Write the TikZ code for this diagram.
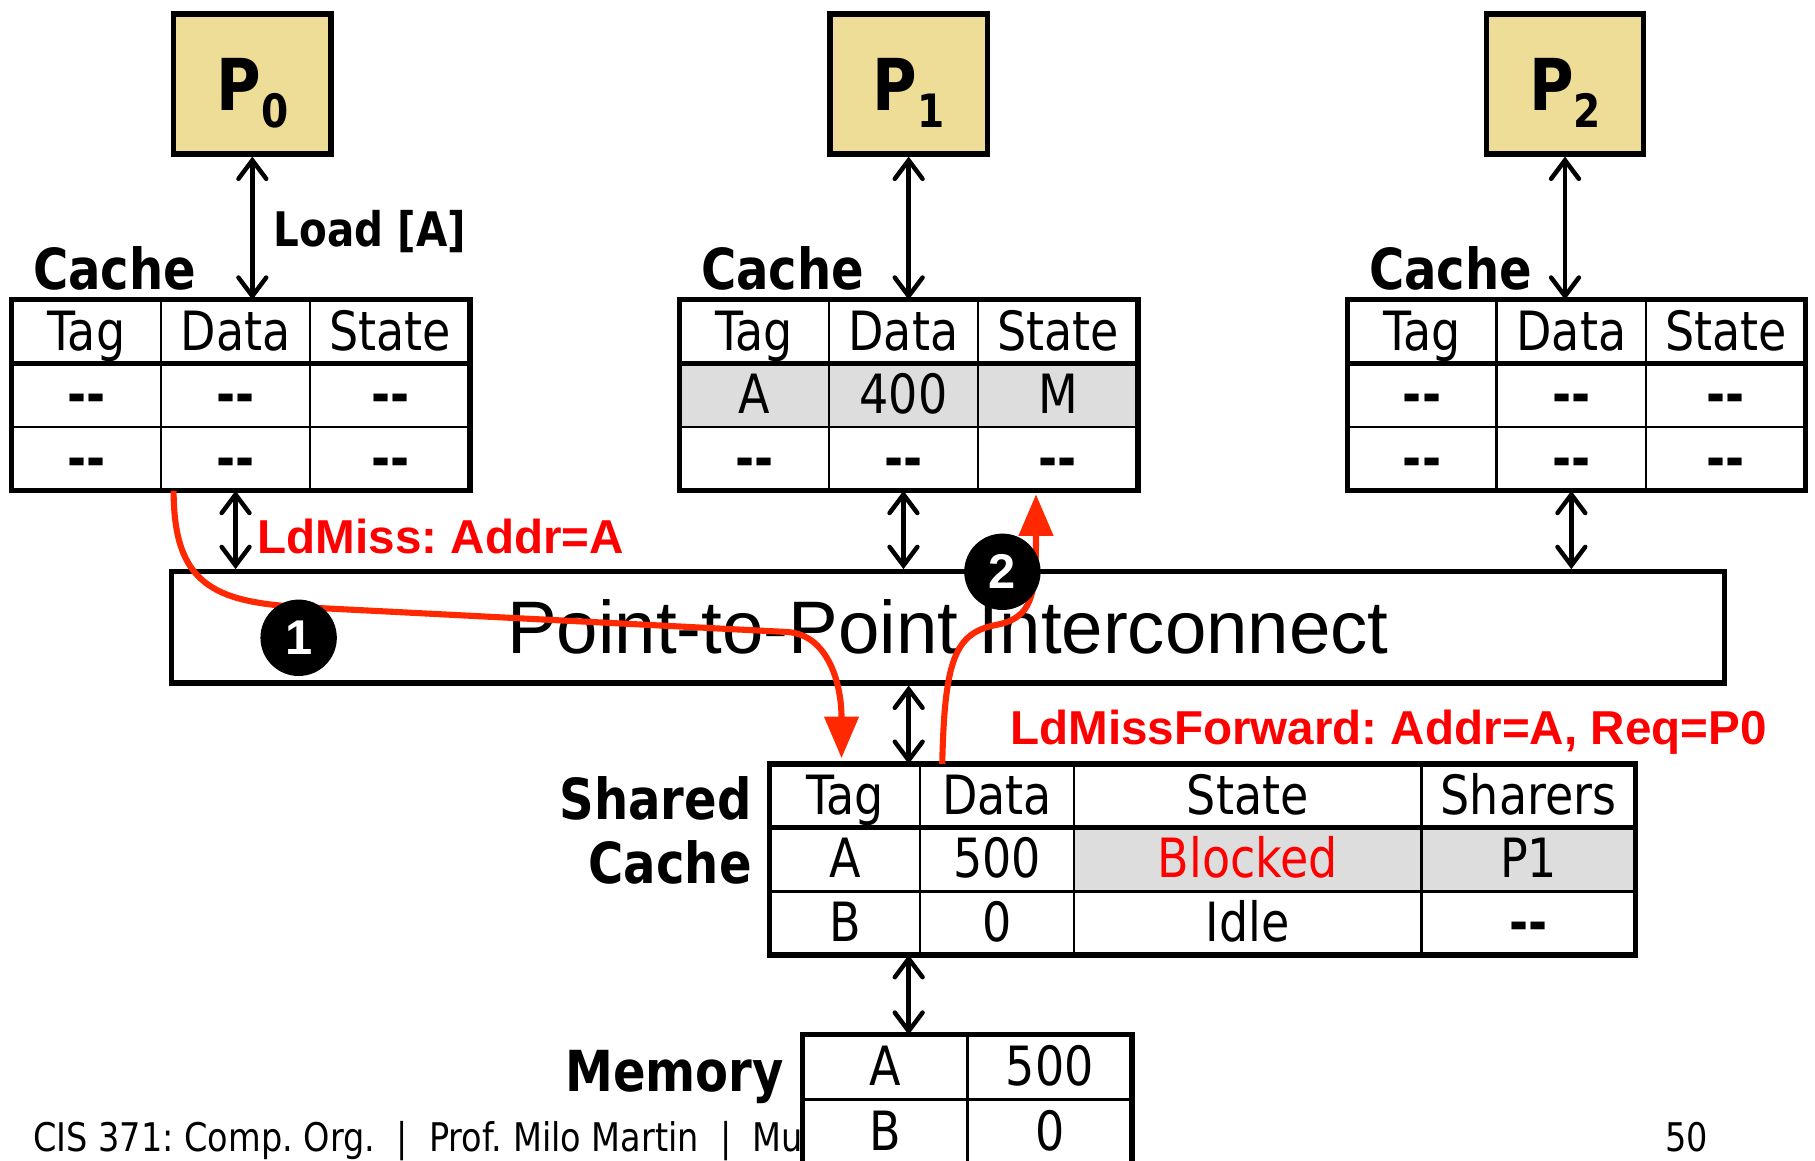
\documentclass[tikz,border=0pt]{standalone}
\usepackage{fontspec}
\setmainfont{DejaVu Sans}[FakeStretch=0.85]
\newfontfamily\arialfont{Liberation Sans}
\usepackage{tikz}
\usetikzlibrary{calc}
\usetikzlibrary{arrows.meta}
\frenchspacing

\definecolor{procyellow}{RGB}{238,221,150}
\definecolor{rowgray}{RGB}{221,221,221}
\definecolor{msgred}{RGB}{255,40,0}
\definecolor{textred}{RGB}{255,0,0}

\begin{document}
\begin{tikzpicture}[
  cell/.style={rectangle, draw=black, line width=0.6pt, fill=white, inner sep=0pt, outer sep=0pt, anchor=north west, minimum height=0.55cm, text height=0.34cm, text depth=0.02cm, font=\fontsize{13.3}{14}\selectfont},
  frame/.style={draw=black, line width=1.3pt},
  proc/.style={rectangle, draw=black, line width=1.3pt, fill=procyellow, minimum width=1.36cm, minimum height=1.21cm, text depth=0pt, font=\bfseries\fontsize{17.6}{18}\selectfont},
  biglabel/.style={inner sep=0pt, font=\bfseries\fontsize{13.9}{15}\selectfont},
  link/.style={black, line width=1.1pt, >={Straight Barb[length=1.6mm,width=2.4mm,line cap=round]}, <->},
  msg/.style={draw=msgred, line width=1.5pt, -{Triangle[length=3.6mm,width=2.9mm]}},
  msglabel/.style={text=textred, inner sep=0pt, anchor=base west, font=\arialfont\bfseries\fontsize{11.7}{13}\selectfont},
  stepdot/.style={circle, fill=black, minimum size=0.66cm, inner sep=0pt, text=white, font=\arialfont\bfseries\fontsize{12}{12}\selectfont}
]

\useasboundingbox (0,0) rectangle (15.68,-10.03);
\clip (0,0) rectangle (15.68,-10.03);

\newcommand\emptyval{\textbf{-{}-}}
\newcommand\cachetab[6]{%
  \node[cell, minimum width=1.29cm] (#1tag) at (#2,-2.59) {Tag};
  \node[cell, minimum width=1.29cm] (#1data) at (#1tag.north east) {Data};
  \node[cell, minimum width=1.38cm] (#1state) at (#1data.north east) {State};
  \node[cell, minimum width=1.29cm, fill=#6] (#1tagA) at (#1tag.south west) {#3};
  \node[cell, minimum width=1.29cm, fill=#6] (#1dataA) at (#1tagA.north east) {#4};
  \node[cell, minimum width=1.38cm, fill=#6] (#1stateA) at (#1dataA.north east) {#5};
  \node[cell, minimum width=1.29cm] (#1tagB) at (#1tagA.south west) {\emptyval};
  \node[cell, minimum width=1.29cm] (#1dataB) at (#1tagB.north east) {\emptyval};
  \node[cell, minimum width=1.38cm] (#1stateB) at (#1dataB.north east) {\emptyval};
  \draw[frame] (#1tag.north west) rectangle (#1stateB.south east);
  \draw[frame] (#1tag.south west) -- (#1state.south east);
  \node[biglabel, anchor=base west] (#1lbl) at ($(#1tag.north west)+(0.18,0.09)$) {Cache};
}

% processors
\node[proc] (p0) at (2.18,-0.725) {P\raisebox{-0.15cm}{\fontsize{11.3}{12}\selectfont 0}};
\node[proc] (p1) at (7.85,-0.725) {P\raisebox{-0.15cm}{\fontsize{11.3}{12}\selectfont 1}};
\node[proc] (p2) at (13.52,-0.725) {P\raisebox{-0.15cm}{\fontsize{11.3}{12}\selectfont 2}};

% private caches
\cachetab{ca}{0.10}{\emptyval}{\emptyval}{\emptyval}{white}
\cachetab{cb}{5.87}{A}{400}{M}{rowgray}
\cachetab{cc}{11.64}{\emptyval}{\emptyval}{\emptyval}{white}

\draw[link] (p0.south) -- (p0.south |- catag.north);
\draw[link] (p1.south) -- (p1.south |- cbtag.north);
\draw[link] (p2.south) -- (p2.south |- cctag.north);
\node[inner sep=0pt, anchor=base west, font=\bfseries\fontsize{11.7}{13}\selectfont] (loadlbl) at (2.36,-2.13) {Load [A]};

% interconnect
\node[rectangle, draw=black, line width=1.3pt, fill=white, minimum width=13.42cm, minimum height=0.96cm, font=\arialfont\fontsize{18.3}{20}\selectfont] (ic) at (8.19,-5.42) {Point-to-Point Interconnect};

\draw[link] (cadataB.south) -- (cadataB.south |- ic.north);
\draw[link] (cbdataB.south) -- (cbdataB.south |- ic.north);
\draw[link] (ccdataB.south) -- (ccdataB.south |- ic.north);

% shared cache
\node[cell, minimum width=1.30cm] (sctag) at (6.65,-6.60) {Tag};
\node[cell, minimum width=1.33cm] (scdata) at (sctag.north east) {Data};
\node[cell, minimum width=3.00cm] (scstate) at (scdata.north east) {State};
\node[cell, minimum width=1.85cm] (scsharers) at (scstate.north east) {Sharers};
\node[cell, minimum width=1.30cm] (sctagA) at (sctag.south west) {A};
\node[cell, minimum width=1.33cm] (scdataA) at (sctagA.north east) {500};
\node[cell, minimum width=3.00cm, fill=rowgray, text=textred] (scstateA) at (scdataA.north east) {Blocked};
\node[cell, minimum width=1.85cm, fill=rowgray] (scsharersA) at (scstateA.north east) {P1};
\node[cell, minimum width=1.30cm] (sctagB) at (sctagA.south west) {B};
\node[cell, minimum width=1.33cm] (scdataB) at (sctagB.north east) {0};
\node[cell, minimum width=3.00cm] (scstateB) at (scdataB.north east) {Idle};
\node[cell, minimum width=1.85cm] (scsharersB) at (scstateB.north east) {\emptyval};
\draw[frame] (sctag.north west) rectangle (scsharersB.south east);
\draw[frame] (sctag.south west) -- (scsharers.south east);
\node[biglabel, anchor=base east] (sclbla) at (6.50,-7.08) {Shared};
\node[biglabel, anchor=base east] (sclblb) at (6.50,-7.63) {Cache};

\draw[link] (p1.south |- ic.south) -- (p1.south |- sctag.north);

% footer
\node[inner sep=0pt, anchor=base west, font=\fontsize{9.7}{10}\selectfont] (foot) at (0.28,-9.95) {CIS 371: Comp. Org.~~|~~Prof. Milo Martin~~|~~Mu};
\node[inner sep=0pt, anchor=base east, font=\fontsize{9.7}{10}\selectfont] (pagenum) at (14.76,-9.95) {50};

% memory
\node[cell, minimum width=1.43cm, minimum height=0.56cm] (memA) at (6.93,-8.94) {A};
\node[cell, minimum width=1.42cm, minimum height=0.56cm] (memAval) at (memA.north east) {500};
\node[cell, minimum width=1.43cm, minimum height=0.56cm] (memB) at (memA.south west) {B};
\node[cell, minimum width=1.42cm, minimum height=0.56cm] (memBval) at (memB.north east) {0};
\draw[frame] (memA.north west) rectangle ($(memBval.south east)+(0,-0.3)$);
\node[biglabel, anchor=base east] (memlbl) at (6.78,-9.43) {Memory};

\draw[link] (p1.south |- sctagB.south) -- (p1.south |- memA.north);

% messages
\draw[msg] ($(cadataB.south west)+(0.11,0)$) .. controls (1.50,-5.05) and (1.85,-5.20) .. (2.60,-5.245) -- (6.80,-5.46) .. controls (7.15,-5.48) and (7.27,-5.90) .. ($(sctag.north east)+(-0.68,0.05)$);
\draw[msg] ($(scdata.north west)+(0.19,0)$) .. controls (8.16,-5.70) and (8.25,-5.47) .. (8.60,-5.40) .. controls (8.92,-5.34) and (8.95,-5.15) .. ($(cbstateB.south west)+(0.50,-0.03)$);
\node[msglabel] (missa) at (2.22,-4.78) {LdMiss: Addr=A};
\node[msglabel] (missb) at (8.72,-6.43) {LdMissForward: Addr=A, Req=P0};

\node[stepdot] (stepa) at (2.58,-5.51) {1};
\node[stepdot] (stepb) at (8.66,-4.94) {2};

\end{tikzpicture}
\end{document}
